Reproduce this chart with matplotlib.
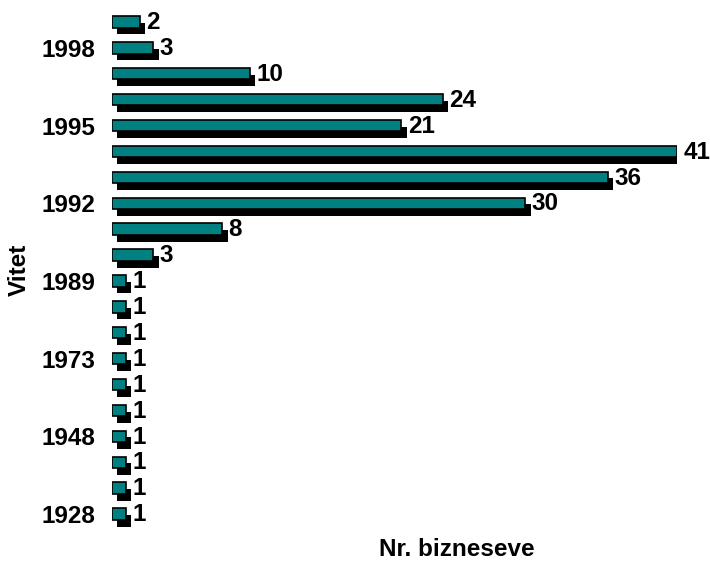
import matplotlib
matplotlib.use("Agg")
import matplotlib.pyplot as plt
import matplotlib.patheffects as pe
import numpy as np

plt.rcParams['font.family'] = ['Liberation Sans', 'DejaVu Sans']

# categories from bottom to top
years = ["1928", "1938", "1945", "1948", "1955", "1965", "1973", "1980", "1985",
         "1989", "1990", "1991", "1992", "1993", "1994", "1995", "1996", "1997",
         "1998", "1999"]
counts = [1, 1, 1, 1, 1, 1, 1, 1, 1, 1, 3, 8, 30, 36, 41, 21, 24, 10, 3, 2]
shown_labels = ["1928", "1948", "1973", "1989", "1992", "1995", "1998"]

W, H = 710, 561
fig = plt.figure(figsize=(W / 100, H / 100), dpi=100)
ax = fig.add_axes([112 / W, 1 - 527 / H, 565 / W, 518 / H])

pos = np.arange(len(years))
bars = ax.barh(pos, counts, height=0.44, color="#008080", edgecolor="black",
               linewidth=1.2, zorder=3)
for b in bars:
    b.set_path_effects([pe.SimplePatchShadow(offset=(3.8, -4.9), shadow_rgbFace="black",
                                             alpha=1.0), pe.Normal()])

for p, v in zip(pos, counts):
    ax.annotate(str(v), xy=(v, p), xytext=(4.5, -0.5), textcoords="offset points",
                ha="left", va="center", fontsize=17.5, fontweight="bold", zorder=4)

ax.set_xlim(0, 41)
ax.set_ylim(-0.5, len(years) - 0.5)
ax.set_yticks(pos)
ax.set_yticklabels([y if y in shown_labels else "" for y in years],
                   fontsize=17.5, fontweight="bold")
ax.tick_params(axis="y", length=0, pad=12)
ax.set_xticks([])
for s in ax.spines.values():
    s.set_visible(False)

fig.text(19 / W, 1 - 270 / H, "Vitet", rotation=90, ha="center", va="center",
         fontsize=17.5, fontweight="bold")
fig.text(457 / W, 1 - 549 / H, "Nr. bizneseve", ha="center", va="center",
         fontsize=17.5, fontweight="bold")

fig.savefig("out.png", dpi=100)
